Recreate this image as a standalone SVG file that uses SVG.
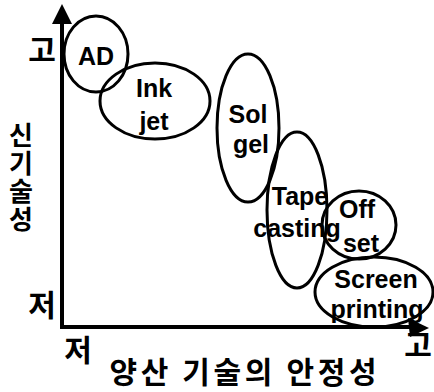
<svg xmlns="http://www.w3.org/2000/svg" width="434" height="392" viewBox="0 0 434 392">
<style>
.n ellipse{fill:none;stroke:#000;stroke-width:3}
.lt{font-family:"Liberation Sans",Arial,sans-serif;font-size:25px;font-weight:bold;text-anchor:middle;fill:#000}
.ko{font-family:"Noto Sans CJK KR","Noto Sans",sans-serif;font-weight:bold;text-anchor:middle;fill:#000}
.ax{stroke:#000;stroke-width:4;fill:none}
</style>
<rect width="434" height="392" fill="#fff"/>
<g id="axes">
<path class="ax" d="M62,22 L62,327 L412,327"/>
<polygon points="62,4 52,24 72,24" fill="#000"/>
<polygon points="429,328 408,318 410,337" fill="#000"/>
</g>
<g id="node-ad" class="n"><ellipse cx="96" cy="54" rx="32" ry="38"/><text class="lt" x="96" y="65">AD</text></g>
<g id="node-inkjet" class="n"><ellipse cx="155" cy="101" rx="55" ry="38"/><text class="lt"><tspan x="154" y="97">Ink</tspan><tspan x="154" y="130">jet</tspan></text></g>
<g id="node-solgel" class="n"><ellipse cx="248" cy="128" rx="31" ry="74"/><text class="lt"><tspan x="248" y="123">Sol</tspan><tspan x="251" y="153">gel</tspan></text></g>
<g id="node-tape" class="n"><ellipse cx="297" cy="210" rx="30" ry="78"/><text class="lt"><tspan x="300" y="205">Tape</tspan><tspan x="297" y="237">casting</tspan></text></g>
<g id="node-offset" class="n"><ellipse cx="359" cy="225" rx="37" ry="34"/><text class="lt"><tspan x="357" y="218">Off</tspan><tspan x="361" y="252">set</tspan></text></g>
<g id="node-screen" class="n"><ellipse cx="374" cy="292" rx="59" ry="35"/><text class="lt"><tspan x="376" y="288">Screen</tspan><tspan x="377" y="318">printing</tspan></text></g>
<g id="labels">
<text class="ko" x="42" y="61" font-size="30">고</text>
<text class="ko" x="21" y="178" font-size="26" writing-mode="vertical-rl" letter-spacing="2">신기술성</text>
<text class="ko" x="42" y="316" font-size="30">저</text>
<text class="ko" x="78" y="361" font-size="30">저</text>
<text class="ko" x="243" y="383" font-size="30" textLength="267" lengthAdjust="spacing">양산 기술의 안정성</text>
<text class="ko" x="418" y="356" font-size="30">고</text>
</g>
</svg>
